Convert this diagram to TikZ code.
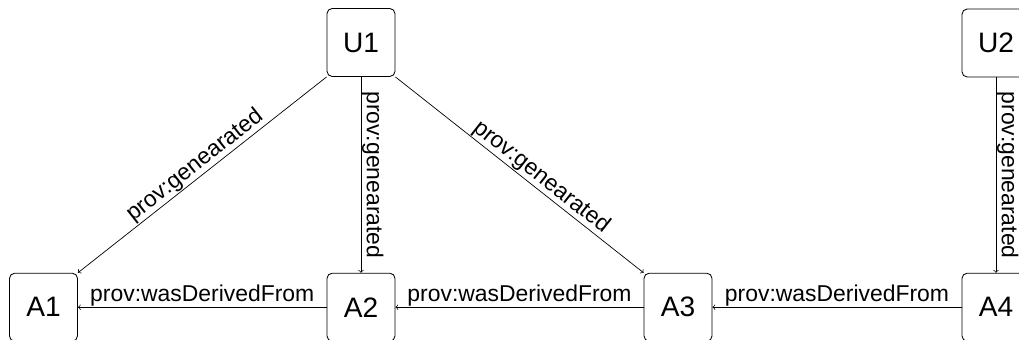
\documentclass[tikz,border=0pt]{standalone}
\usepackage{fontspec}
\setmainfont{Liberation Sans}
\begin{document}
\begin{tikzpicture}
            \useasboundingbox (0,0) rectangle (25.475,-8.5);
            \begin{scope}[every node/.style={draw, rounded corners=0.13cm, line width=0.6pt,
                            minimum width=1.7cm, minimum height=1.7cm,
                            font=\fontsize{20}{24}\selectfont}]

                \node (U1) at (9.025,-1.0625) {U1};
                \node (U2) at (24.9,-1.075) {U2};
                \node (A1) at (1.0875,-7.68) {A1};
                \node (A2) at (9.025,-7.68) {A2};
                \node (A3) at (16.95,-7.68) {A3};
                \node (A4) at (24.9,-7.68) {A4};

            \end{scope}
            \begin{scope}[every edge/.style={draw, ->, line width=0.5pt},
                          every node/.style={font=\fontsize{16.3}{19}\selectfont, inner sep=0.5pt}]
                \path (U1.south west) edge node[sloped, above] {prov:genearated}(A1.north east);
                \path (U1) edge node[midway, rotate=-90, anchor=south] {prov:genearated}(A2);
                \path (U1.south east) edge node[pos=0.56, sloped, above] {prov:genearated}(A3.north west);
                \path (U2) edge node[midway, rotate=-90, anchor=south] {prov:genearated}(A4);

                \path (A2) edge node[anchor=south] {prov:wasDerivedFrom}(A1);
                \path (A3) edge node[anchor=south] {prov:wasDerivedFrom}(A2);
                \path (A4) edge node[anchor=south] {prov:wasDerivedFrom}(A3);
            \end{scope}

        \end{tikzpicture}
\end{document}
